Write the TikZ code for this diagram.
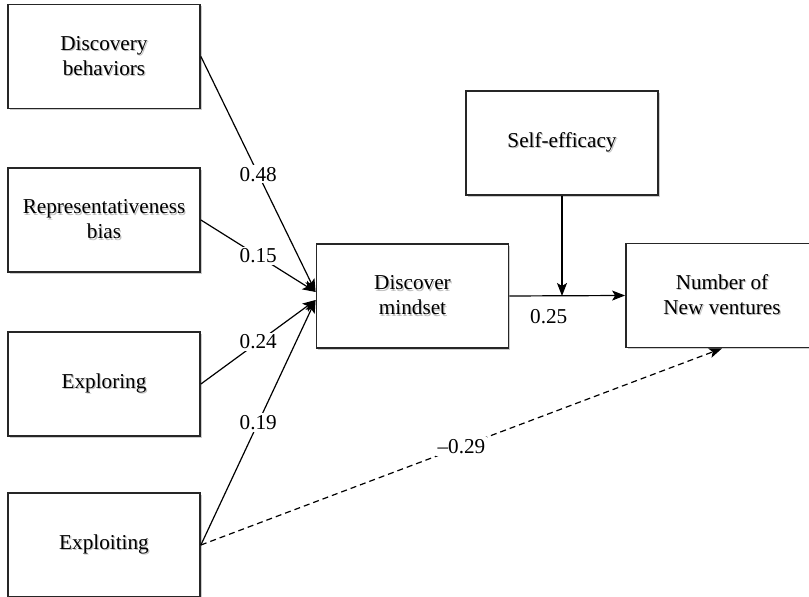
\documentclass[tikz,border=0pt]{standalone}
\usepackage{fontspec}
\setmainfont{Liberation Serif}[Ligatures=TeX]
\usetikzlibrary{arrows.meta,shadows}
% gray shadow behind a line of text
\newcommand{\shtxt}[1]{\rlap{\hspace{0.6pt}\raisebox{-0.6pt}{\color{black!25}#1}}#1}

\begin{document}
\begin{tikzpicture}[x=0.5pt,y=-0.5pt,
  font=\rmfamily\fontsize{10.6}{12.5}\selectfont,
  box/.style={draw=black!85,line width=0.9pt,fill=white,minimum width=96pt,minimum height=52pt,
    align=center,drop shadow={shadow xshift=0.9pt,shadow yshift=-0.9pt,fill=black!20,opacity=1}},
  path/.style={line width=0.6pt,-{Stealth[length=6.5pt,width=5pt,inset=1.5pt]}},
  coef/.style={fill=white,inner sep=1pt}]
\useasboundingbox (0,0) rectangle (809,597);

% predictors
\node[box] (disc) at (104,56.5) {\shtxt{Discovery}\\\shtxt{behaviors}};
\node[box] (rep) at (104,220) {\shtxt{Representativeness}\\\shtxt{bias}};
\node[box] (explr) at (104,384) {\shtxt{Exploring}};
\node[box] (explt) at (104,545) {\shtxt{Exploiting}};

% mediator, moderator, outcome
\node[box] (mind) at (412.5,296) {\shtxt{Discover}\\\shtxt{mindset}};
\node[box] (self) at (562,143) {\shtxt{Self-efficacy}};
\node[box] (num) at (722,295.5) {\shtxt{Number of}\\\shtxt{New ventures}};

\coordinate (join) at (self.south |- mind.east);

\draw[path] (disc.east) -- node[coef] {0.48} ([yshift=2pt]mind.west);
\draw[path] (rep.east) -- node[coef] {0.15} ([yshift=2pt]mind.west);
\draw[path] (explr.east) -- node[coef] {0.24} ([yshift=-2pt]mind.west);
\draw[path] (explt.east) -- node[coef] {0.19} ([yshift=-2pt]mind.west);
\draw[path] (mind.east) -- node[below=3pt,pos=0.34] {0.25} (num.west);
\draw[path] (self.south) -- (join);
\draw[path,dashed,dash pattern=on 3pt off 2pt] (explt.east) -- node[coef] {--0.29} (num.south);
\end{tikzpicture}
\end{document}
